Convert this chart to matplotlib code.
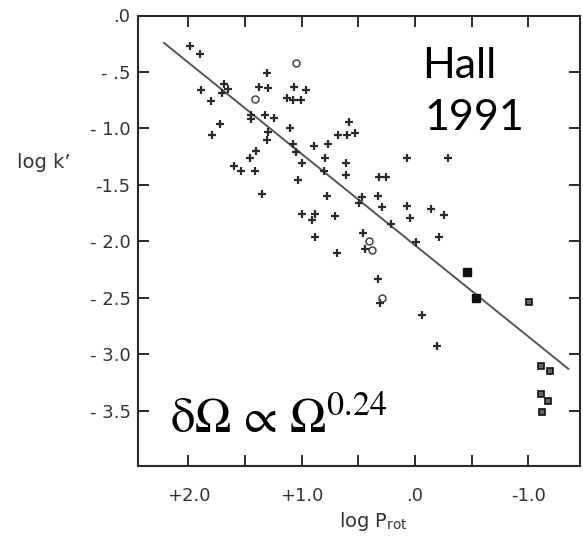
import matplotlib
matplotlib.use("Agg")
import matplotlib.pyplot as plt
import numpy as np

plt.rcParams['mathtext.fontset'] = 'stix'

# ---- data (log P_rot, log k') ----
plus_x = [1.99, 1.90, 1.31, 1.69, 1.89, 1.65, 1.70, 1.38, 1.30, 1.07, 0.96, 1.13, 1.08, 1.01,
          1.80, 1.45, 1.32, 1.24, 1.45, 0.58, 1.72, 1.10, 1.30, 1.79, 0.68, 0.60, 0.53, 1.31,
          1.08, 0.89, 0.77, 1.40, 1.05, 1.46, 0.79, 1.00, 0.61, 1.60, 1.54, 1.41, 0.80, 0.61,
          1.03, 1.35, 0.78, 0.47, 0.32, 0.26, 0.33, 0.49, 0.29, 1.00, 0.88, 0.91, 0.71, 0.21,
          0.46, 0.44, 0.88, 0.69, 0.33, 0.31, 0.07, -0.29, 0.07, -0.14, 0.04, -0.26, -0.21,
          -0.01, -0.06, -0.19]
plus_y = [-0.27, -0.34, -0.51, -0.61, -0.66, -0.65, -0.69, -0.63, -0.64, -0.63, -0.66, -0.73,
          -0.75, -0.75, -0.76, -0.88, -0.88, -0.91, -0.92, -0.94, -0.96, -1.00, -1.03, -1.06,
          -1.06, -1.06, -1.04, -1.10, -1.14, -1.16, -1.14, -1.20, -1.21, -1.26, -1.26, -1.31,
          -1.31, -1.33, -1.38, -1.38, -1.38, -1.41, -1.46, -1.58, -1.60, -1.61, -1.43, -1.43,
          -1.60, -1.66, -1.70, -1.76, -1.76, -1.81, -1.78, -1.85, -1.93, -2.07, -1.96, -2.10,
          -2.33, -2.55, -1.26, -1.26, -1.69, -1.71, -1.79, -1.77, -1.96, -2.01, -2.65, -2.93]

circle_x = [1.05, 1.41, 0.41, 0.38, 0.29]
circle_y = [-0.42, -0.74, -2.00, -2.08, -2.50]

bigsq_x = [-0.46, -0.54]
bigsq_y = [-2.27, -2.50]

box_x = [-1.01, -1.11, -1.19, -1.11, -1.17, -1.12]
box_y = [-2.54, -3.10, -3.15, -3.35, -3.41, -3.51]

fit_x = [2.215, -1.353]
fit_slope = 0.809
fit_intercept = -2.035

xticks_major = [2.0, 1.5, 1.0, 0.5, 0.0, -0.5, -1.0]
xtick_labels = ['+2.0', '', '+1.0', '', '.0', '', '-1.0']
yticks_major = [0.0, -0.5, -1.0, -1.5, -2.0, -2.5, -3.0, -3.5]
ytick_labels = ['.0', '- .5', '- 1.0', '-1.5', '- 2.0', '- 2.5', '- 3.0', '- 3.5']

W, H = 583, 539
fig = plt.figure(figsize=(W / 100, H / 100), dpi=100)
ax = fig.add_axes([137.5 / W, 1 - 466 / H, (580 - 137.5) / W, (466 - 15.5) / H])

ink = '#2a2a2a'
fx = np.array(fit_x)
ax.plot(fx, fit_slope * fx + fit_intercept, color='#555555', lw=1.4, zorder=1)

ax.plot(plus_x, plus_y, ls='none', marker='+', ms=6, mew=1.6, color=ink, zorder=3)
ax.plot(circle_x, circle_y, ls='none', marker='o', ms=5, mew=1.1, mfc='none', mec='#444444', zorder=3)
ax.plot(bigsq_x, bigsq_y, ls='none', marker='s', ms=6, color='#111111', zorder=3)
ax.plot(box_x, box_y, ls='none', marker='s', ms=4.5, mfc='#666666', mec='#111111', mew=1.2, zorder=3)

ax.set_xlim(2.449, -1.456)
ax.set_ylim(-3.99, 0.0)

ax.set_xticks(xticks_major)
ax.set_xticklabels(xtick_labels)
ax.set_yticks(yticks_major)
ax.set_yticklabels(ytick_labels)

ax.tick_params(axis='both', direction='in', length=8, width=1.4, color=ink,
               top=True, right=True, labelsize=13, labelcolor='#333333')
ax.tick_params(axis='x', pad=15)
ax.tick_params(axis='y', pad=5)
for s in ax.spines.values():
    s.set_linewidth(1.5)
    s.set_color(ink)

fig.text(44 / W, 1 - 162 / H, "log k\u2019", ha='center', va='center', fontsize=14, color='#333333')
fig.text(373 / W, 1 - 527 / H, r"log P$_{\mathregular{rot}}$", ha='center', va='baseline',
         fontsize=14, color='#333333')

fig.text(422 / W, 1 - 78 / H, "Hall", ha='left', va='baseline', fontsize=31, family='Lato', color='black')
fig.text(424 / W, 1 - 130 / H, "1991", ha='left', va='baseline', fontsize=31, family='Lato', color='black')

fig.text(170 / W, 1 - 433 / H, r"$\mathrm{\delta\Omega}\,\propto\,\mathrm{\Omega}^{0.24}$",
         ha='left', va='baseline', fontsize=35, color='black')

fig.savefig("out.png", dpi=100)
